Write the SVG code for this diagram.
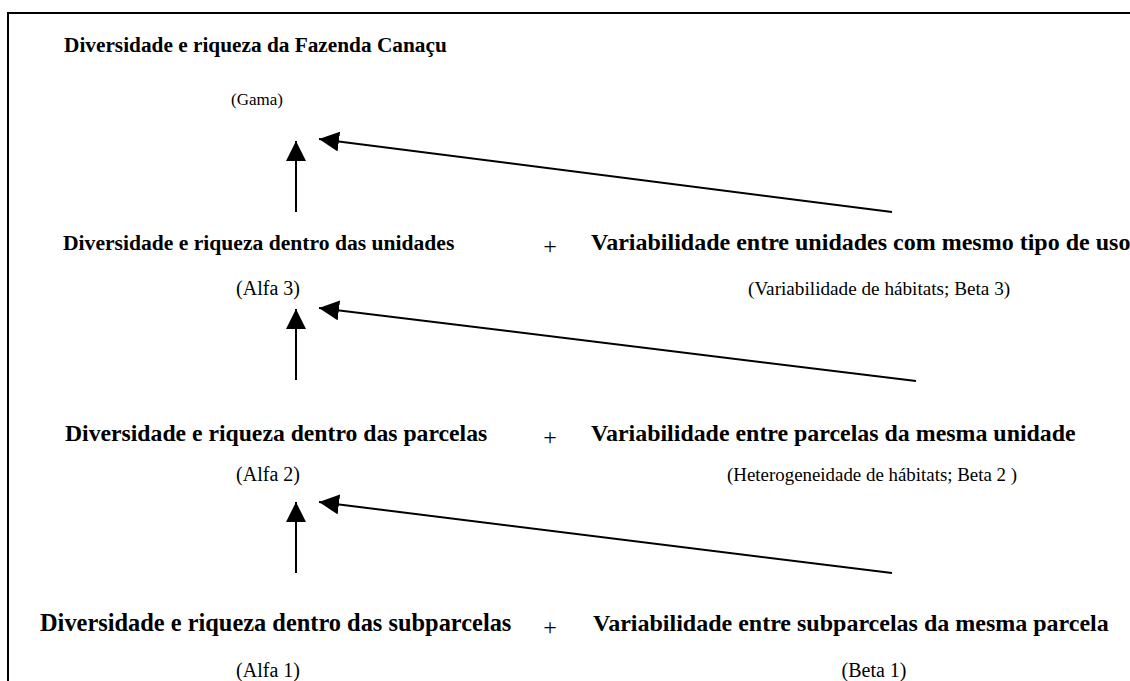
<svg xmlns="http://www.w3.org/2000/svg" width="1130" height="681" viewBox="0 0 1130 681">
<defs>
<style>
.b{font-family:"Liberation Serif","Times New Roman",serif;font-weight:bold;font-size:22px;fill:#000}
.n{font-family:"Liberation Serif","Times New Roman",serif;font-size:19.5px;fill:#000}
.p{font-family:"Liberation Serif","Times New Roman",serif;font-size:24px;fill:#000;text-anchor:middle}
.c{text-anchor:middle}
.ln{stroke:#000;stroke-width:2;fill:none}
</style>
<marker id="ah" viewBox="0 0 20 20" refX="20" refY="10" markerWidth="20" markerHeight="20" markerUnits="userSpaceOnUse" orient="auto">
<path d="M0,0 L20,10 L0,20 Z" fill="#000"/>
</marker>
</defs>
<rect x="0" y="0" width="1130" height="681" fill="#fff"/>
<path d="M8,690 V13 H1140" class="ln"/>
<g id="gama">
<text class="b" x="64" y="52" style="font-size:21.3px">Diversidade e riqueza da Fazenda Canaçu</text>
<text class="n c" x="257" y="105" style="font-size:17px">(Gama)</text>
</g>
<g id="alfa3">
<text class="b" x="63" y="250" style="font-size:21.6px">Diversidade e riqueza dentro das unidades</text>
<text class="n c" x="268" y="295" style="font-size:20px">(Alfa 3)</text>
</g>
<g id="beta3">
<text class="p" x="550" y="254">+</text>
<text class="b" x="591" y="250" style="font-size:24px">Variabilidade entre unidades com mesmo tipo de uso</text>
<text class="n" x="748" y="295" style="font-size:19.2px">(Variabilidade de hábitats; Beta 3)</text>
</g>
<g id="alfa2">
<text class="b" x="65" y="441" style="font-size:23.7px">Diversidade e riqueza dentro das parcelas</text>
<text class="n c" x="268" y="481" style="font-size:20px">(Alfa 2)</text>
</g>
<g id="beta2">
<text class="p" x="550" y="445">+</text>
<text class="b" x="591" y="441" style="font-size:23.9px">Variabilidade entre parcelas da mesma unidade</text>
<text class="n" x="727" y="481" style="font-size:18.9px">(Heterogeneidade de hábitats; Beta 2 )</text>
</g>
<g id="alfa1">
<text class="b" x="40" y="631" style="font-size:24.4px">Diversidade e riqueza dentro das subparcelas</text>
<text class="n c" x="268" y="677" style="font-size:20px">(Alfa 1)</text>
</g>
<g id="beta1">
<text class="p" x="550" y="635">+</text>
<text class="b" x="593" y="631" style="font-size:24px">Variabilidade entre subparcelas da mesma parcela</text>
<text class="n c" x="874" y="677" style="font-size:20px">(Beta 1)</text>
</g>
<g id="connectors">
<line class="ln" x1="296" y1="212" x2="296" y2="141" marker-end="url(#ah)"/>
<line class="ln" x1="892" y1="212" x2="319" y2="139" marker-end="url(#ah)"/>
<line class="ln" x1="296" y1="380" x2="296" y2="309" marker-end="url(#ah)"/>
<line class="ln" x1="916" y1="381" x2="319" y2="308" marker-end="url(#ah)"/>
<line class="ln" x1="296" y1="573" x2="296" y2="502" marker-end="url(#ah)"/>
<line class="ln" x1="892" y1="573" x2="319" y2="502" marker-end="url(#ah)"/>
</g>
</svg>
